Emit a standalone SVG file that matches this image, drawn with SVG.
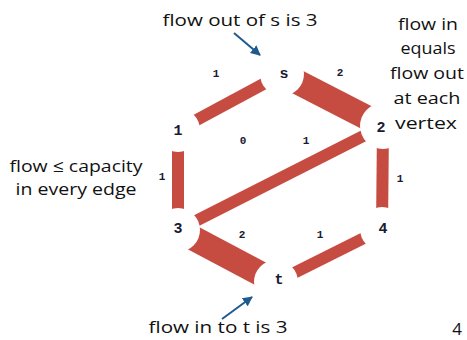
<svg xmlns="http://www.w3.org/2000/svg" width="467" height="340" viewBox="0 0 467 340">
<defs>
<style>
.e{stroke:#C64B41;stroke-linecap:butt}
.t1{stroke-width:12}
.t2{stroke-width:25}
.hole{fill:#fff}
.nl{font-family:"Liberation Mono",monospace;font-weight:bold;font-size:15px;fill:#1a1a33;text-anchor:middle}
.el{font-family:"Liberation Mono",monospace;font-weight:bold;font-size:11px;fill:#1a1a33;text-anchor:middle}
.an{font-family:"Open Sans","DejaVu Sans",sans-serif;font-size:17px;fill:#111;text-anchor:middle}
.ar{stroke:#1f5a8f;stroke-width:2;fill:none}
</style>
<marker id="ah" viewBox="0 0 10 10" refX="9" refY="5" markerWidth="5" markerHeight="5" orient="auto">
<path d="M0,0 L10,5 L0,10 z" fill="#1f5a8f"/>
</marker>
</defs>
<rect width="467" height="340" fill="#fff"/>
<g id="connectors">
<line class="e t1" x1="282" y1="74" x2="178" y2="130"/>
<line class="e t2" x1="282" y1="74" x2="383" y2="126"/>
<line class="e t1" x1="178" y1="130" x2="178" y2="230"/>
<line class="e t1" x1="383" y1="126" x2="178" y2="230"/>
<line class="e t1" x1="383" y1="126" x2="382" y2="229"/>
<line class="e t2" x1="178" y1="230" x2="276" y2="282"/>
<line class="e t1" x1="382" y1="229" x2="276" y2="282"/>
<text class="el" x="216" y="77">1</text>
<text class="el" x="340" y="76">2</text>
<text class="el" x="243" y="144">0</text>
<text class="el" x="306" y="144">1</text>
<text class="el" x="162" y="180">1</text>
<text class="el" x="400" y="182">1</text>
<text class="el" x="242" y="238">2</text>
<text class="el" x="320" y="238">1</text>
<line class="ar" x1="234" y1="33" x2="260" y2="55" marker-end="url(#ah)"/>
<line class="ar" x1="222" y1="319" x2="252" y2="297" marker-end="url(#ah)"/>
</g>
<g id="node-s"><circle class="hole" cx="282" cy="74" r="22"/><text class="nl" x="284" y="78">s</text></g>
<g id="node-2"><circle class="hole" cx="383" cy="126" r="23"/><text class="nl" x="381" y="132">2</text></g>
<g id="node-1"><circle class="hole" cx="178" cy="130" r="22"/><text class="nl" x="178" y="135">1</text></g>
<g id="node-3"><circle class="hole" cx="178" cy="230" r="22"/><text class="nl" x="178" y="233">3</text></g>
<g id="node-4"><circle class="hole" cx="382" cy="229" r="22"/><text class="nl" x="383" y="233">4</text></g>
<g id="node-t"><circle class="hole" cx="276" cy="282" r="22"/><text class="nl" x="279" y="284">t</text></g>
<g id="annotations">
<text class="an" x="240" y="26" textLength="155" lengthAdjust="spacingAndGlyphs">flow out of s is 3</text>
<text class="an" x="428" y="30" textLength="60" lengthAdjust="spacingAndGlyphs">flow in</text>
<text class="an" x="428" y="54" textLength="55" lengthAdjust="spacingAndGlyphs">equals</text>
<text class="an" x="427" y="79" textLength="74" lengthAdjust="spacingAndGlyphs">flow out</text>
<text class="an" x="427" y="104" textLength="67" lengthAdjust="spacingAndGlyphs">at each</text>
<text class="an" x="426" y="129" textLength="62" lengthAdjust="spacingAndGlyphs">vertex</text>
<text class="an" x="76" y="172" textLength="133" lengthAdjust="spacingAndGlyphs">flow ≤ capacity</text>
<text class="an" x="76" y="195" textLength="121" lengthAdjust="spacingAndGlyphs">in every edge</text>
<text class="an" x="218" y="333" textLength="139" lengthAdjust="spacingAndGlyphs">flow in to t is 3</text>
<text class="an" x="457" y="335" font-size="11">4</text>
</g>
</svg>
